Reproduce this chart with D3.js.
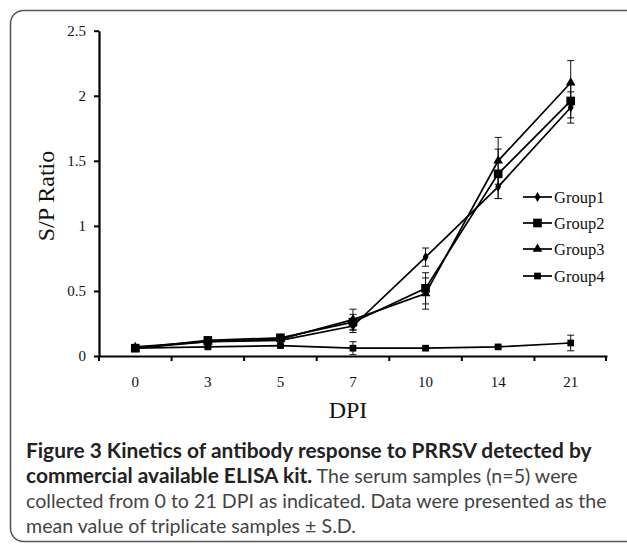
<!DOCTYPE html>
<html>
<head>
<meta charset="utf-8">
<script src="https://cdn.jsdelivr.net/npm/d3@7"></script>
<style>
  html, body { margin: 0; padding: 0; background: #fff; }
  svg { display: block; }
</style>
</head>
<body>
<svg id="chart" width="627" height="544"></svg>
<script>
// ---- data ----
const days = ["0", "3", "5", "7", "10", "14", "21"];
const yTicks = [0, 0.5, 1, 1.5, 2, 2.5];
const seriesNames = ["Group1", "Group2", "Group3", "Group4"];
const group1 = [0.07, 0.11, 0.12, 0.23, 0.76, 1.30, 1.91];
const group2 = [0.06, 0.12, 0.14, 0.26, 0.52, 1.40, 1.96];
const group3 = [0.06, 0.11, 0.13, 0.28, 0.48, 1.50, 2.10];
const group4 = [0.06, 0.07, 0.08, 0.06, 0.06, 0.07, 0.10];
const sd1 = [0.01, 0.01, 0.01, 0.05, 0.07, 0.09, 0.12];
const sd2 = [0.01, 0.01, 0.01, 0.06, 0.12, 0.19, 0.13];
const sd3 = [0.01, 0.01, 0.01, 0.08, 0.12, 0.18, 0.17];
const sd4 = [0.01, 0.01, 0.01, 0.05, 0.01, 0.01, 0.06];
const yLabel = "S/P Ratio";
const xLabel = "DPI";
const captionBold1 = "Figure 3 Kinetics of antibody response to PRRSV detected by";
const captionBold2 = "commercial available ELISA kit.";
const captionRest2 = " The serum samples (n=5) were";
const captionLine3 = "collected from 0 to 21 DPI as indicated. Data were presented as the";
const captionLine4 = "mean value of triplicate samples \u00B1 S.D.";

const series = [
  { name: seriesNames[0], values: group1, sd: sd1, symbol: d3.symbolDiamond, size: 30 },
  { name: seriesNames[1], values: group2, sd: sd2, symbol: d3.symbolSquare, size: 75 },
  { name: seriesNames[2], values: group3, sd: sd3, symbol: d3.symbolTriangle, size: 40 },
  { name: seriesNames[3], values: group4, sd: sd4, symbol: d3.symbolSquare, size: 45 }
];

const svg = d3.select("#chart");
const serif = "'Liberation Serif', 'Times New Roman', serif";

// frame
svg.append("rect")
  .attr("x", 10.5).attr("y", 10.5)
  .attr("width", 700).attr("height", 531)
  .attr("rx", 13).attr("ry", 13)
  .attr("fill", "none").attr("stroke", "#555").attr("stroke-width", 1.5);

const x = d3.scaleBand().domain(days).range([99, 607]);
const y = d3.scaleLinear().domain([0, 2.5]).range([356, 30.7]);

// y axis
const yAxis = svg.append("g")
  .attr("transform", "translate(99,0)")
  .call(d3.axisLeft(y).tickValues(yTicks).tickFormat(d3.format("~g")).tickSize(5).tickSizeOuter(0).tickPadding(8));
yAxis.select(".domain").attr("stroke", "#000").attr("stroke-width", 2.2);
yAxis.selectAll(".tick line").attr("stroke", "#000").attr("stroke-width", 2);
yAxis.selectAll("text").attr("font-family", serif).attr("font-size", 15).attr("fill", "#111");

// x axis
const xAxis = svg.append("g")
  .attr("transform", "translate(0,356)")
  .call(d3.axisBottom(x).tickSize(0).tickSizeOuter(0).tickPadding(20));
xAxis.select(".domain").attr("stroke", "#000").attr("stroke-width", 2.2);
xAxis.selectAll("text").attr("font-family", serif).attr("font-size", 15).attr("fill", "#111");
// boundary ticks between categories
const bounds = days.map(d => x(d)).concat([x.range()[1] - 1]);
xAxis.selectAll(".btick").data(bounds).enter().append("line")
  .attr("class", "btick")
  .attr("x1", d => d).attr("x2", d => d)
  .attr("y1", 0).attr("y2", 5)
  .attr("stroke", "#000").attr("stroke-width", 2);

// axis titles
svg.append("text")
  .attr("transform", "translate(54,196) rotate(-90)")
  .attr("text-anchor", "middle")
  .attr("font-family", serif).attr("font-size", 24).attr("fill", "#111")
  .text(yLabel);
svg.append("text")
  .attr("x", 348).attr("y", 418)
  .attr("text-anchor", "middle")
  .attr("font-family", serif).attr("font-size", 24).attr("fill", "#111")
  .text(xLabel);

const cx = d => x(d) + x.bandwidth() / 2;
const line = d3.line().x((v, i) => cx(days[i])).y(v => y(v));

const plot = svg.append("g");
// error bars
series.forEach(s => {
  const g = plot.append("g");
  s.values.forEach((v, i) => {
    const xc = cx(days[i]);
    const top = y(v + s.sd[i]), bot = y(v - s.sd[i]);
    g.append("line").attr("x1", xc).attr("x2", xc).attr("y1", top).attr("y2", bot)
      .attr("stroke", "#111").attr("stroke-width", 1);
    [top, bot].forEach(yy => g.append("line")
      .attr("x1", xc - 3.5).attr("x2", xc + 3.5).attr("y1", yy).attr("y2", yy)
      .attr("stroke", "#111").attr("stroke-width", 1));
  });
});
// lines and markers
series.forEach(s => {
  plot.append("path").attr("d", line(s.values))
    .attr("fill", "none").attr("stroke", "#000").attr("stroke-width", 1.7);
  plot.selectAll(null).data(s.values).enter().append("path")
    .attr("transform", (v, i) => `translate(${cx(days[i])},${y(v)})`)
    .attr("d", d3.symbol().type(s.symbol).size(s.size))
    .attr("fill", "#000");
});

// legend
const legY = [197, 223, 249, 276];
const leg = svg.append("g");
series.forEach((s, i) => {
  leg.append("line").attr("x1", 523).attr("x2", 552).attr("y1", legY[i]).attr("y2", legY[i])
    .attr("stroke", "#000").attr("stroke-width", 1.7);
  leg.append("path").attr("transform", `translate(537.5,${legY[i]})`)
    .attr("d", d3.symbol().type(s.symbol).size(s.size)).attr("fill", "#000");
  leg.append("text").attr("x", 554).attr("y", legY[i]).attr("dy", "0.35em")
    .attr("font-family", serif).attr("font-size", 16.5).attr("fill", "#111")
    .text(s.name);
});

// caption
const sans = "Lato, 'Open Sans', sans-serif";
const cap = svg.append("g").attr("font-family", sans).attr("fill", "#333");
// bold size fitted to line 1 width, regular size fitted to line 3 width
const l1 = cap.append("text").attr("x", 26).attr("y", 458)
  .attr("font-weight", "bold").attr("fill", "#222").attr("font-size", 20).text(captionBold1);
const fsB = 20 * 566 / l1.node().getComputedTextLength();
l1.attr("font-size", fsB);
const l3 = cap.append("text").attr("x", 26).attr("y", 508).attr("font-size", 20)
  .attr("fill", "#444").text(captionLine3);
const fsR = Math.min(fsB, 20 * 581 / l3.node().getComputedTextLength());
l3.attr("font-size", fsR);
const l2 = cap.append("text").attr("x", 26).attr("y", 483);
l2.append("tspan").attr("font-weight", "bold").attr("font-size", fsB).attr("fill", "#222").text(captionBold2);
l2.append("tspan").attr("font-size", fsR).attr("fill", "#444").text(captionRest2);
cap.append("text").attr("x", 26).attr("y", 533).attr("font-size", fsR).attr("fill", "#444").text(captionLine4);
</script>
</body>
</html>
